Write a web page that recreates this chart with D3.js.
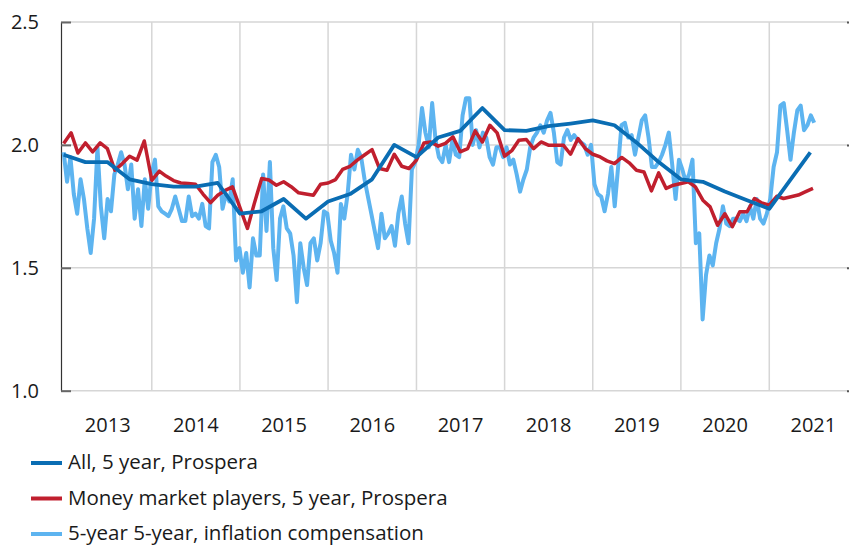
<!DOCTYPE html>
<html>
<head>
<meta charset="utf-8">
<script src="https://cdn.jsdelivr.net/npm/d3@7"></script>
<style>
  body { margin: 0; background: white; }
  text { font-family: "Open Sans", "Noto Sans", sans-serif; fill: #1a1a1a; }
</style>
</head>
<body>
<div id="chart"></div>
<script>
// Prospera surveys, all respondents (quarterly)
var allDates = ["2013-01-01","2013-04-01","2013-07-01","2013-10-01","2014-01-01","2014-04-01","2014-07-01","2014-10-01",
  "2015-01-01","2015-04-01","2015-07-01","2015-10-01","2016-01-01","2016-04-01","2016-07-01","2016-10-01",
  "2017-01-01","2017-04-01","2017-07-01","2017-10-01","2018-01-01","2018-04-01","2018-07-01","2018-10-01",
  "2019-01-01","2019-04-01","2019-07-01","2019-10-01","2020-01-01","2020-04-01","2020-07-01","2020-10-01",
  "2021-01-01","2021-06-20"];
var allValues = [1.96,1.93,1.93,1.86,1.84,1.83,1.83,1.845,
  1.72,1.73,1.78,1.70,1.77,1.80,1.86,2.00,
  1.95,2.03,2.057,2.15,2.06,2.057,2.076,2.087,
  2.10,2.08,2.01,1.93,1.86,1.85,1.81,1.775,
  1.74,1.97];

// Money market players (monthly from Jan 2013)
var mmStart = "2013-01-01";
var mmValues = [2.006,2.049,1.967,2.008,1.972,2.008,1.985,1.897,1.924,1.954,1.938,2.016,
  1.856,1.893,1.873,1.855,1.845,1.843,1.840,1.800,1.765,1.795,1.815,1.829,
  1.745,1.660,1.760,1.863,1.857,1.836,1.850,1.830,1.805,1.800,1.795,1.840,
  1.845,1.859,1.900,1.913,1.938,1.960,1.981,1.904,1.897,1.962,1.913,1.904,
  1.938,2.008,2.012,1.995,2.006,2.033,1.972,1.985,2.057,2.012,2.080,2.049,
  1.954,1.978,2.019,2.022,1.985,2.012,1.999,1.999,1.999,1.962,2.026,1.985,
  1.962,1.951,1.935,1.924,1.949,1.927,1.897,1.890,1.813,1.886,1.823,1.836,
  1.843,1.850,1.829,1.775,1.748,1.673,1.720,1.667,1.728,1.728,1.782,1.764,
  1.755,1.791,1.782,1.789,1.796,1.810,1.823];

// 5-year 5-year inflation compensation (every second week from Jan 2013)
var infStart = "2013-01-01";
var infStepDays = 14;
var infValues = [1.97,1.85,1.95,1.80,1.72,1.86,1.78,1.66,1.56,1.70,1.99,1.75,1.62,1.78,1.73,1.88,1.92,1.97,1.92,1.82,
  1.92,1.70,1.82,1.67,1.86,1.74,1.88,1.94,1.75,1.73,1.72,1.71,1.74,1.79,1.74,1.69,1.69,1.79,1.71,1.72,
  1.70,1.76,1.67,1.66,1.93,1.96,1.91,1.74,1.80,1.77,1.86,1.53,1.58,1.48,1.56,1.42,1.62,1.55,1.55,1.88,
  1.65,1.93,1.58,1.45,1.70,1.75,1.66,1.64,1.55,1.36,1.60,1.50,1.43,1.60,1.62,1.53,1.60,1.73,1.72,1.61,
  1.56,1.48,1.76,1.70,1.80,1.96,1.90,1.98,1.95,1.86,1.79,1.72,1.65,1.58,1.72,1.62,1.64,1.67,1.59,1.72,
  1.79,1.68,1.60,1.90,1.93,2.00,2.15,2.05,1.99,2.17,2.02,1.95,1.93,2.00,1.93,2.02,1.96,1.95,2.12,2.19,
  2.19,2.00,2.06,1.99,2.05,2.03,1.95,1.92,1.99,1.99,1.95,1.99,1.92,1.94,1.88,1.81,1.86,1.90,1.99,2.03,
  2.05,2.08,2.05,2.10,2.13,2.05,1.93,1.92,2.03,2.06,2.02,2.04,2.02,2.01,2.00,1.96,2.00,1.84,1.80,1.79,
  1.73,1.80,1.91,1.75,1.91,2.08,2.09,2.03,2.04,1.96,2.03,2.10,2.12,2.03,1.91,1.91,1.93,1.96,2.00,2.05,
  1.92,1.78,1.94,1.90,1.85,1.88,1.94,1.60,1.64,1.29,1.47,1.55,1.51,1.60,1.66,1.75,1.68,1.67,1.70,1.70,
  1.69,1.72,1.69,1.75,1.70,1.78,1.70,1.68,1.72,1.78,1.91,1.97,2.16,2.17,2.06,1.94,2.05,2.14,2.16,2.06,
  2.08,2.12,2.09];

var yTicks = [1.0, 1.5, 2.0, 2.5];
var years = [2013, 2014, 2015, 2016, 2017, 2018, 2019, 2020, 2021];

var seriesNames = ["All, 5 year, Prospera", "Money market players, 5 year, Prospera", "5-year 5-year, inflation compensation"];
var seriesColors = ["#0a6db3", "#c01f2e", "#5db4f0"];

var parse = d3.timeParse("%Y-%m-%d");

var allData = allDates.map(function(d, i){ return {date: parse(d), value: allValues[i]}; });
var mmData = mmValues.map(function(v, i){ return {date: d3.timeMonth.offset(parse(mmStart), i), value: v}; });
var infData = infValues.map(function(v, i){ return {date: d3.timeDay.offset(parse(infStart), i * infStepDays), value: v}; });

var width = 849, height = 547;
var plot = {left: 61, right: 848, top: 22, bottom: 390.7};

var svg = d3.select("#chart")
  .append("svg")
    .attr("width", width)
    .attr("height", height)
    .style("background-color", "white");

var x = d3.scaleTime()
  .domain([new Date(2012, 11, 21), new Date(2021, 10, 23)])
  .range([plot.left, plot.right]);

var y = d3.scaleLinear()
  .domain([1, 2.5])
  .range([plot.bottom, plot.top]);

// horizontal grid
svg.append("g")
  .selectAll("line")
  .data(yTicks)
  .enter()
  .append("line")
    .attr("x1", plot.left)
    .attr("x2", plot.right)
    .attr("y1", function(d){ return y(d); })
    .attr("y2", function(d){ return y(d); })
    .attr("stroke", "#d6d6d6")
    .attr("stroke-width", 1.5);

// vertical grid at year starts
svg.append("g")
  .selectAll("line")
  .data(years.slice(1))
  .enter()
  .append("line")
    .attr("x1", function(d){ return x(new Date(d, 0, 1)); })
    .attr("x2", function(d){ return x(new Date(d, 0, 1)); })
    .attr("y1", plot.top)
    .attr("y2", plot.bottom)
    .attr("stroke", "#d6d6d6")
    .attr("stroke-width", 1.5);

// left axis
var yAxis = svg.append("g")
  .attr("transform", "translate(" + plot.left + ",0)")
  .call(d3.axisLeft(y).tickValues(yTicks).tickFormat(d3.format(".1f")).tickSizeInner(-10).tickSizeOuter(0).tickPadding(22));
yAxis.select(".domain").attr("stroke", "#333").attr("stroke-width", 1.2);
yAxis.selectAll(".tick line").attr("stroke", "#666").attr("stroke-width", 2);
yAxis.selectAll(".tick text").style("font-size", "20px").attr("fill", "#1a1a1a");

// right ticks
var yRight = svg.append("g")
  .attr("transform", "translate(" + (plot.right - 1) + ",0)")
  .call(d3.axisRight(y).tickValues(yTicks).tickSize(4).tickFormat(""));
yRight.select(".domain").remove();
yRight.selectAll(".tick line").attr("stroke", "#555").attr("stroke-width", 2);

// year labels centred in each year
svg.append("g")
  .selectAll("text")
  .data(years)
  .enter()
  .append("text")
    .attr("x", function(d){ return (x(new Date(d, 0, 1)) + x(new Date(d + 1, 0, 1))) / 2; })
    .attr("y", 432)
    .attr("text-anchor", "middle")
    .style("font-size", "20px")
    .text(function(d){ return d; });

var line = d3.line()
  .x(function(d){ return x(d.date); })
  .y(function(d){ return y(d.value); });

svg.append("path")
  .datum(infData)
  .attr("d", line)
  .attr("fill", "none")
  .attr("stroke", seriesColors[2])
  .attr("stroke-width", 4)
  .attr("stroke-linejoin", "round");

svg.append("path")
  .datum(mmData)
  .attr("d", line)
  .attr("fill", "none")
  .attr("stroke", seriesColors[1])
  .attr("stroke-width", 3.5)
  .attr("stroke-linejoin", "round");

svg.append("path")
  .datum(allData)
  .attr("d", line)
  .attr("fill", "none")
  .attr("stroke", seriesColors[0])
  .attr("stroke-width", 3.8)
  .attr("stroke-linejoin", "round");

// legend
var legend = svg.append("g")
  .selectAll("g")
  .data(seriesNames)
  .enter()
  .append("g")
    .attr("transform", function(d, i){ return "translate(31," + (463 + i * 35.5) + ")"; });

legend.append("line")
  .attr("x1", 0)
  .attr("x2", 31)
  .attr("stroke", function(d, i){ return seriesColors[i]; })
  .attr("stroke-width", 4);

legend.append("text")
  .attr("x", 37)
  .attr("y", 6)
  .style("font-size", "20.5px")
  .text(function(d){ return d; });
</script>
</body>
</html>
